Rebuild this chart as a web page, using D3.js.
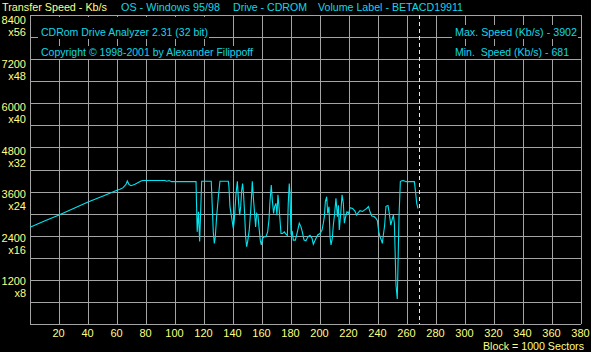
<!DOCTYPE html>
<html lang="en">
<head>
<meta charset="UTF-8">
<title>CDRom Drive Analyzer</title>
<script src="https://d3js.org/d3.v7.min.js"></script>
<style>
    body { margin: 0; background: #000; }
    svg { display: block; }
    text { font-family: "Liberation Sans", Arial, sans-serif; font-size: 11px; white-space: pre; }
</style>
</head>
<body>
<svg width="591" height="352"></svg>
<script>
    // transfer speed (Kb/s), by block (1 block = 1000 sectors)
    const blocks = [0, 10, 20, 30, 40, 50, 60, 62, 64, 66.2, 67.1, 68.3, 69.7, 72.4, 74.3, 76.6, 77.8,
        93.1, 94.3, 95.9, 97.7, 114.5, 115.3, 116.2, 117, 118.4, 125, 126.4, 127.1, 127.8, 128.7, 129.9,
        131, 136.8, 137.2, 137.9, 139, 140.2, 140.9, 142, 143, 143.9, 144.6, 145.3, 146, 146.6, 147.3,
        148, 148.7, 149.4, 150.1, 151.2, 152.4, 153.3, 154, 154.9, 155.6, 156.3, 157.2, 157.9, 158.8,
        159.5, 160.4, 161.4, 162.7, 163.9, 164.8, 165.5, 166.4, 167.1, 168, 168.7, 169.6, 170.3, 171,
        171.7, 172.4, 173.1, 174.2, 175.4, 176.5, 177.5, 178.1, 178.8, 179.3, 180, 180.9, 181.6, 183,
        184.4, 185.7, 186.9, 187.8, 189, 190.3, 191.7, 193.1, 194.5, 195.4, 197, 198.4, 200, 201.4,
        202.3, 203, 203.7, 204.6, 205.3, 206.2, 206.9, 207.6, 208.5, 209.2, 210.1, 211, 212, 212.7,
        213.3, 214.3, 215.2, 216.1, 216.8, 217.7, 218.6, 219.8, 220.7, 222.5, 224.1, 225.3, 226.4,
        227.6, 229.4, 231, 232.2, 233.4, 234.5, 235.7, 237.3, 238.6, 239.6, 240.5, 241.4, 242.3, 243,
        243.7, 244.6, 245.5, 246.9, 247.8, 248.8, 249.7, 250.6, 251.3, 252.4, 253.3, 254.5, 255.4,
        256.4, 257.5, 259.3, 265.1, 266, 266.7, 267.6];
    const speeds = [2630, 2800, 2965, 3140, 3315, 3475, 3635, 3660, 3700, 3795, 3890, 3790, 3760, 3797, 3840, 3887, 3902,
        3902, 3880, 3900, 3870, 3870, 2505, 3050, 2240, 3880, 3880, 2505, 2190, 2370, 2915, 3460,
        3880, 3880, 3730, 3190, 2915, 2600, 2830, 3510, 3880, 3280, 2960, 3190, 3640, 3820, 3510,
        3007, 2370, 2100, 2240, 2550, 3190, 3880, 3460, 3007, 2640, 3007, 2960, 2640, 2280,
        2150, 2330, 2370, 2370, 2505, 2830, 3330, 3780, 3370, 3007, 3190, 3280, 2960, 3510,
        3190, 2830, 2460, 2460, 2505, 2440, 2410, 3280, 3820, 3550, 2460, 2505, 2280, 2280,
        2505, 2740, 2640, 2505, 2280, 2260, 2370, 2410, 2330, 2170, 2310, 2420, 2460, 2555,
        2740, 2920, 3330, 3460, 3007, 3190, 2370, 2150, 2330, 2690, 3007, 3420, 2920, 3230,
        2555, 3007, 3510, 3280, 2740, 2920, 3050, 3007, 3160, 3140, 3070, 2960, 3030,
        3080, 3060, 3110, 3140, 3190, 3050, 2935, 2920, 2870, 2810, 2510, 2370, 2280, 2190,
        2420, 2690, 3200, 3220, 3007, 2690, 2830, 2960, 2740, 1060, 681, 2920, 3870,
        3895, 3902, 3870, 3870, 3550, 3280, 3140];

    const endBlock = 268;
    const xTicks = d3.range(20, 381, 20);
    const yTicks = d3.range(1200, 8401, 1200);
    const yMultipliers = ["x8", "x16", "x24", "x32", "x40", "x48", "x56"];

    const headerLabels = ["Transfer Speed - Kb/s", "OS - Windows 95/98", "Drive - CDROM", "Volume Label - BETACD19911"];
    const captionLabels = ["CDRom Drive Analyzer 2.31 (32 bit)", "Copyright \u00A9 1998-2001 by Alexander Filippoff"];
    const statLabels = ["Max. Speed (Kb/s) - 3902", "Min.  Speed (Kb/s) - 681"];
    const unitLabel = "Block = 1000 Sectors";

    const yellow = "#ffff80";
    const cyan = "#10d8e8";
    const gridColor = "#a4a4a4";

    const svg = d3.select("svg");

    const x = d3.scaleLinear().domain([0, 380]).range([30, 581]);
    const y = d3.scaleLinear().domain([0, 8400]).range([324, 15]);
    // the program spaces its y labels a touch tighter than the grid
    const yLabel = d3.scaleLinear().domain([1200, 8400]).range([285, 24]);

    // grid
    const grid = svg.append("g")
        .attr("stroke", gridColor)
        .attr("stroke-width", 1)
        .attr("shape-rendering", "crispEdges");

    grid.selectAll(".v")
        .data(d3.range(0, 381, 20))
        .join("line")
        .attr("x1", d => Math.round(x(d)) + 0.5)
        .attr("x2", d => Math.round(x(d)) + 0.5)
        .attr("y1", y(8400))
        .attr("y2", y(0));

    grid.selectAll(".h")
        .data(d3.range(0, 8401, 600))
        .join("line")
        .attr("x1", x(0))
        .attr("x2", x(380))
        .attr("y1", d => Math.round(y(d)) + 0.5)
        .attr("y2", d => Math.round(y(d)) + 0.5);

    // black boxes behind the captions, then the captions
    function boxedText(label, xPos, baseline, len, color, top) {
        svg.append("rect")
            .attr("x", xPos - 3)
            .attr("y", baseline - top)
            .attr("width", len + 4)
            .attr("height", top + 3)
            .attr("fill", "#000");
        svg.append("text")
            .attr("x", xPos)
            .attr("y", baseline)
            .attr("fill", color)
            .attr("textLength", len)
            .attr("lengthAdjust", "spacingAndGlyphs")
            .text(label);
    }

    boxedText(captionLabels[0], 41, 36, 167, cyan, 19);
    boxedText(captionLabels[1], 41, 56, 212, cyan, 10);
    boxedText(statLabels[0], 455, 36, 122, cyan, 11);
    boxedText(statLabels[1], 455, 56, 114, cyan, 10);

    // end of disc marker
    svg.append("line")
        .attr("x1", Math.round(x(endBlock)) + 0.5)
        .attr("x2", Math.round(x(endBlock)) + 0.5)
        .attr("y1", y(8400))
        .attr("y2", y(0))
        .attr("stroke", "#e8e8e8")
        .attr("stroke-dasharray", "4,3")
        .attr("shape-rendering", "crispEdges");

    // speed trace
    const line = d3.line()
        .x((d, i) => x(blocks[i]))
        .y(d => y(d));

    svg.append("path")
        .datum(speeds)
        .attr("d", line)
        .attr("fill", "none")
        .attr("stroke", "#00e4f0")
        .attr("stroke-width", 1.1)
        .attr("stroke-linejoin", "miter");

    // header line
    const headerX = [2, 121, 233, 318];
    const headerLen = [105, 99, 74, 145];
    svg.selectAll(".header")
        .data(headerLabels)
        .join("text")
        .attr("x", (d, i) => headerX[i])
        .attr("y", 11)
        .attr("fill", (d, i) => i === 0 ? yellow : cyan)
        .attr("textLength", (d, i) => headerLen[i])
        .attr("lengthAdjust", "spacingAndGlyphs")
        .text(d => d);

    // y labels
    svg.selectAll(".ylab")
        .data(yTicks)
        .join("text")
        .attr("x", 26)
        .attr("y", d => yLabel(d))
        .attr("text-anchor", "end")
        .attr("fill", yellow)
        .text(d => d);

    svg.selectAll(".ymul")
        .data(yTicks)
        .join("text")
        .attr("x", 26)
        .attr("y", d => yLabel(d) + 12)
        .attr("text-anchor", "end")
        .attr("fill", yellow)
        .text((d, i) => yMultipliers[i]);

    // x labels
    svg.selectAll(".xlab")
        .data(xTicks)
        .join("text")
        .attr("x", d => x(d) - 0.5)
        .attr("y", 337)
        .attr("text-anchor", "middle")
        .attr("fill", yellow)
        .text(d => d);

    svg.append("text")
        .attr("x", 483)
        .attr("y", 350)
        .attr("fill", yellow)
        .attr("textLength", 101)
        .attr("lengthAdjust", "spacingAndGlyphs")
        .text(unitLabel);
</script>
</body>
</html>
